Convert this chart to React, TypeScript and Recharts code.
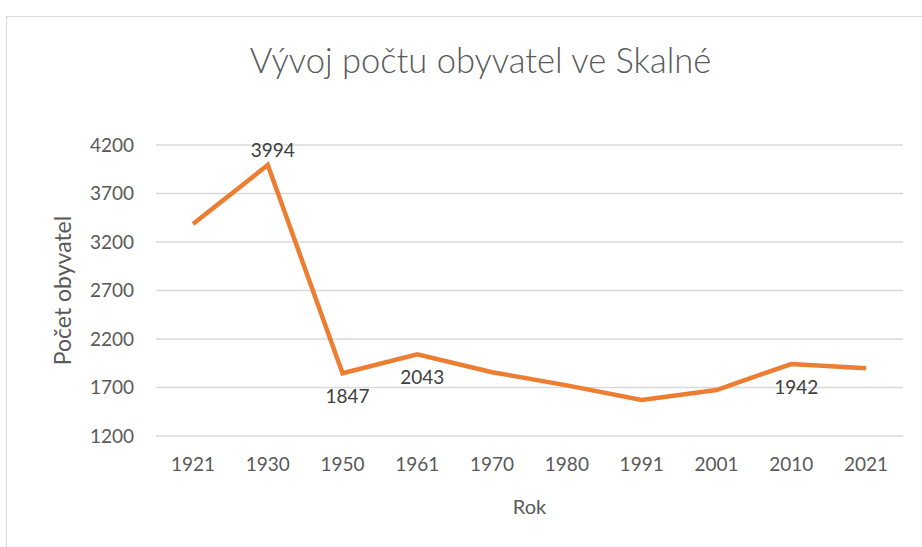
import React from 'react';
import { LineChart, Line, XAxis, YAxis, CartesianGrid, LabelList, Label } from 'recharts';

const years = ['1921', '1930', '1950', '1961', '1970', '1980', '1991', '2001', '2010', '2021'];
const population = [3385, 3994, 1847, 2043, 1858, 1722, 1571, 1674, 1942, 1898];
const labeledYears = ['1930', '1950', '1961', '2010'];
const yTicks = [1200, 1700, 2200, 2700, 3200, 3700, 4200];

const data = years.map((year, i) => ({ year, value: population[i] }));
const maxValue = Math.max(...population);

const FONT = 'Lato, "Open Sans", sans-serif';
const TEXT = '#595959';

const renderPointLabel = (props: any) => {
  const { x, y, value, index } = props;
  if (!labeledYears.includes(years[index])) return null;
  const above = value === maxValue;
  return (
    <text
      x={x + 5}
      y={above ? y - 8 : y + 30}
      textAnchor="middle"
      fill="#404040"
      fontSize={19}
      fontFamily={FONT}
    >
      {value}
    </text>
  );
};

const renderYLabel = (props: any) => {
  const { viewBox } = props;
  const cy = viewBox.y + viewBox.height / 2;
  return (
    <text
      x={71}
      y={cy}
      transform={`rotate(-90, 71, ${cy})`}
      textAnchor="middle"
      fill={TEXT}
      fontSize={23}
      fontFamily={FONT}
    >
      Počet obyvatel
    </text>
  );
};

const App: React.FC = () => {
  return (
    <div style={{ position: 'absolute', left: 0, top: 0, width: 922, height: 547, overflow: 'hidden', background: '#fff' }}>
      <div
        style={{
          position: 'absolute',
          left: 6,
          top: 16,
          width: 940,
          height: 560,
          border: '1px solid #d9d9d9',
        }}
      />
      <div
        style={{
          position: 'absolute',
          left: 0,
          width: 961,
          top: 39,
          textAlign: 'center',
          fontFamily: FONT,
          fontSize: 34.5,
          fontWeight: 300,
          color: TEXT,
        }}
      >
        Vývoj počtu obyvatel ve Skalné
      </div>
      <div style={{ position: 'absolute', left: 0, top: 0 }}>
        <LineChart width={922} height={547} data={data} margin={{ top: 145, right: 19, left: 0, bottom: 0 }}>
          <CartesianGrid vertical={false} stroke="#d9d9d9" strokeWidth={1.5} />
          <XAxis
            dataKey="year"
            height={111}
            padding={{ left: 37, right: 37 }}
            axisLine={false}
            tickLine={false}
            tickSize={0}
            tickMargin={22}
            tick={{ fill: TEXT, fontSize: 19, fontFamily: FONT }}
          >
            <Label value="Rok" position="insideBottom" offset={33} fill={TEXT} fontSize={20} fontFamily={FONT} />
          </XAxis>
          <YAxis
            width={156}
            domain={[1200, 4200]}
            ticks={yTicks}
            axisLine={false}
            tickLine={false}
            tickSize={0}
            tickMargin={22}
            tick={{ fill: TEXT, fontSize: 19, fontFamily: FONT }}
          >
            <Label content={renderYLabel} />
          </YAxis>
          <Line
            type="linear"
            dataKey="value"
            stroke="#ED7D31"
            strokeWidth={4.5}
            dot={false}
            isAnimationActive={false}
          >
            <LabelList dataKey="value" content={renderPointLabel} />
          </Line>
        </LineChart>
      </div>
    </div>
  );
};

export default App;
